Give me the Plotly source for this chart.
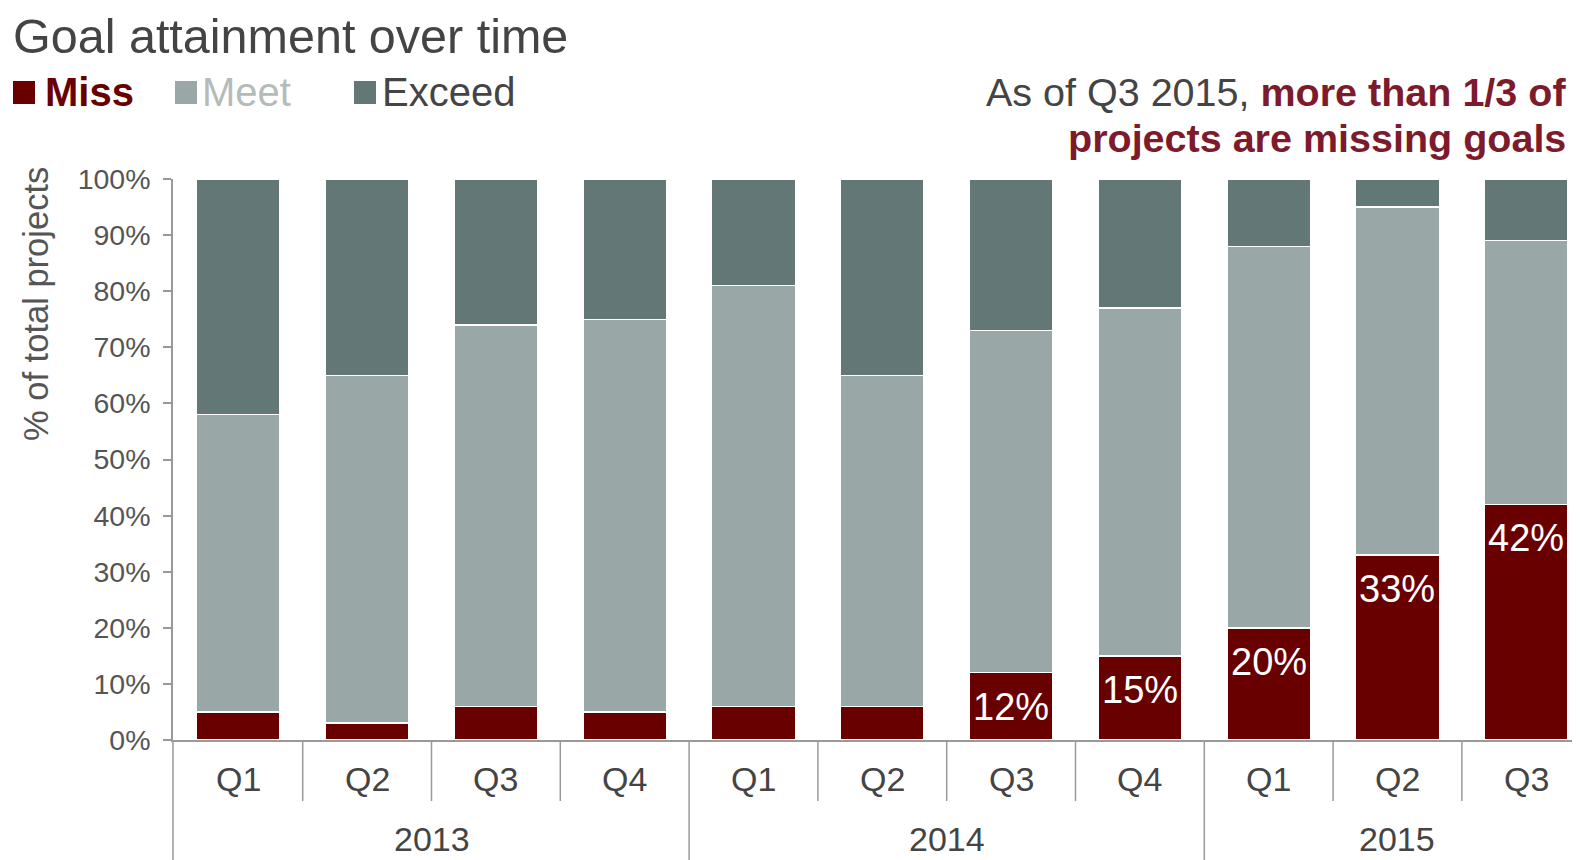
import plotly.graph_objects as go

quarters = ["Q1", "Q2", "Q3", "Q4", "Q1", "Q2", "Q3", "Q4", "Q1", "Q2", "Q3"]
years = ["2013", "2014", "2015"]
year_sizes = [4, 4, 3]
miss = [5, 3, 6, 5, 6, 6, 12, 15, 20, 33, 42]
meet = [53, 62, 68, 70, 75, 59, 61, 62, 68, 62, 47]
exceed = [42, 35, 26, 25, 19, 35, 27, 23, 12, 5, 11]
y_ticks = [0, 10, 20, 30, 40, 50, 60, 70, 80, 90, 100]
label_min = 10  # miss values shown as labels when >= this

C_MISS = "#690000"
C_MEET = "#99a8a6"
C_EXC = "#627776"
FONT = "Liberation Sans"

OFF = 8  # page body margin
W, H = 1580 - OFF, 860 - OFF
L, T = 173 - OFF, 179 - OFF
R, B = 0, H - (740 - OFF)
PW, PH = W - L - R, H - T - B


def px(x):
    return (x - OFF - L) / PW


def py(y):
    return (H - B - (y - OFF)) / PH


xs = list(range(len(quarters)))
fig = go.Figure()
for name, vals, col in [("Miss", miss, C_MISS), ("Meet", meet, C_MEET), ("Exceed", exceed, C_EXC)]:
    fig.add_trace(go.Bar(
        x=xs, y=vals, name=name, marker=dict(color=col, line=dict(color="white", width=1.5)),
        width=0.65, showlegend=False, hoverinfo="skip",
    ))

annotations = []
for i, v in enumerate(miss):
    if v >= label_min:
        annotations.append(dict(x=xs[i], y=v, xref="x", yref="y", text=f"{v}%", showarrow=False,
                                yanchor="top", yshift=-11, font=dict(family=FONT, size=38, color="white")))

for i, q in enumerate(quarters):
    annotations.append(dict(x=xs[i], y=py(779), xref="x", yref="paper", text=q, showarrow=False,
                            yanchor="middle", font=dict(family=FONT, size=34, color="#444")))

shapes = []
start = 0
for yr, n in zip(years, year_sizes):
    center = start + (n - 1) / 2
    annotations.append(dict(x=center, y=py(839), xref="x", yref="paper", text=yr, showarrow=False,
                            yanchor="middle", font=dict(family=FONT, size=34, color="#444")))
    for k in range(1, n):
        shapes.append(dict(type="line", xref="x", yref="paper", x0=start + k - 0.5, x1=start + k - 0.5,
                           y0=0, y1=py(801), line=dict(color="#999", width=1.5)))
    if start + n < len(quarters):
        shapes.append(dict(type="line", xref="x", yref="paper", x0=start + n - 0.5, x1=start + n - 0.5,
                           y0=0, y1=py(870), line=dict(color="#999", width=1.5)))
    start += n
shapes.append(dict(type="line", xref="paper", yref="paper", x0=0, x1=0, y0=0, y1=py(870),
                   line=dict(color="#999", width=1.5)))

annotations.append(dict(x=px(11), y=py(36), xref="paper", yref="paper", text="Goal attainment over time",
                        showarrow=False, xanchor="left", yanchor="middle",
                        font=dict(family=FONT, size=48.5, color="#444")))
leg = [(C_MISS, "<b>Miss</b>", C_MISS, 13, 43),
       (C_MEET, "Meet", "#b4bcbb", 175, 200),
       (C_EXC, "Exceed", "#444", 354, 380)]
for col, txt, tcol, sx, tx in leg:
    shapes.append(dict(type="rect", xref="paper", yref="paper", x0=px(sx), x1=px(sx + 22),
                       y0=py(104), y1=py(81), fillcolor=col, line=dict(width=0)))
    annotations.append(dict(x=px(tx), y=py(92), xref="paper", yref="paper", text=txt, showarrow=False,
                            xanchor="left", yanchor="middle", font=dict(family=FONT, size=40, color=tcol)))

annotations.append(dict(x=px(36), y=py(304), xref="paper", yref="paper", text="% of total projects",
                        showarrow=False, textangle=-90, xanchor="center", yanchor="middle",
                        font=dict(family=FONT, size=34.5, color="#555")))

annotations.append(dict(x=px(1568), y=py(92), xref="paper", yref="paper",
                        text="As of Q3 2015, <b><span style='color:#7d1a2b'>more than 1/3 of</span></b>",
                        showarrow=False, xanchor="right", yanchor="middle",
                        font=dict(family=FONT, size=39.5, color="#444")))
annotations.append(dict(x=px(1568), y=py(138), xref="paper", yref="paper",
                        text="<b>projects are missing goals</b>",
                        showarrow=False, xanchor="right", yanchor="middle",
                        font=dict(family=FONT, size=39.5, color="#7d1a2b")))

fig.update_layout(
    barmode="stack", width=W, height=H, autosize=False,
    margin=dict(l=L, r=R, t=T, b=B, pad=0),
    paper_bgcolor="white", plot_bgcolor="white",
    xaxis=dict(range=[-0.507, 10.417], showticklabels=False, ticks="", showgrid=False, zeroline=False,
               showline=True, linecolor="#999", linewidth=1.5, fixedrange=True),
    yaxis=dict(range=[0, 100], tickmode="array", tickvals=y_ticks, ticktext=[f"{t}%" for t in y_ticks],
               ticks="outside", ticklen=8, tickcolor="#999", tickwidth=1.5, showline=True,
               linecolor="#999", linewidth=1.5, showgrid=False, zeroline=False, ticklabelstandoff=7,
               tickfont=dict(family=FONT, size=28.5, color="#555"), fixedrange=True),
    annotations=annotations, shapes=shapes,
)

fig.write_html("out.html")
